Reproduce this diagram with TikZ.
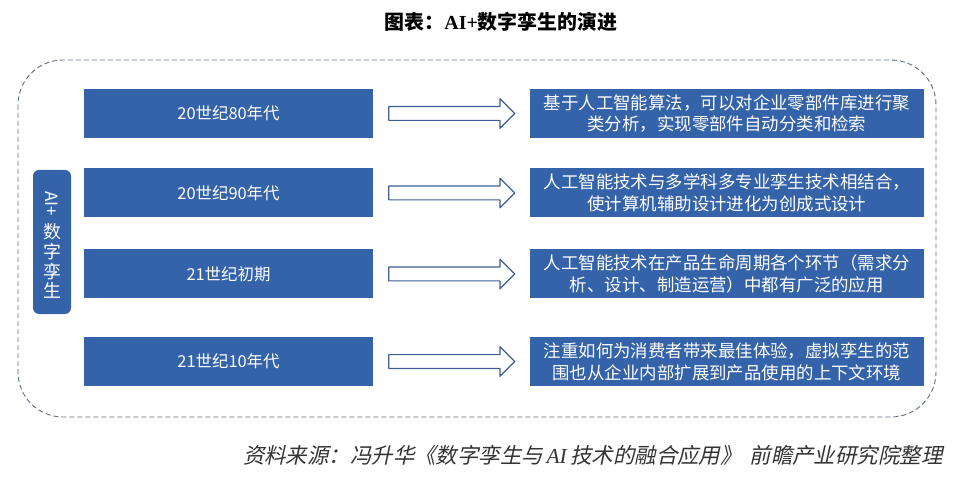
\documentclass[tikz,border=0pt]{standalone}
\usepackage{fontspec}
\setmainfont{Liberation Serif}
\newfontfamily\cjk{Noto Sans CJK SC}
\newfontfamily\cjkslant[FakeSlant=0.22]{Noto Sans CJK SC}
\usetikzlibrary{positioning,shapes.arrows}
\definecolor{boxblue}{HTML}{3563A9}
\definecolor{arrowblue}{HTML}{3E5C96}
\definecolor{dashgray}{HTML}{5E6C86}
\tikzset{
  erabox/.style={fill=boxblue,text=white,minimum width=289bp,minimum height=49bp,inner sep=0pt,font=\cjk\fontsize{16.5}{20}\selectfont},
  descbox/.style={fill=boxblue,text=white,minimum width=394bp,minimum height=49bp,text width=384bp,align=center,inner sep=0pt,font=\cjk\fontsize{17.5}{22}\selectfont},
  flowarrow/.style={single arrow,draw=arrowblue,line width=1.2bp,fill=white,minimum height=126bp,single arrow head extend=8bp,inner xsep=0pt,inner ysep=6.3bp},
  sidebox/.style={fill=boxblue,rounded corners=6bp,minimum width=38bp,minimum height=144bp,inner sep=0pt}
}
\begin{document}
\begin{tikzpicture}[x=1bp,y=-1bp,line join=round]
  \useasboundingbox (0,0) rectangle (957,480);
  \node[font=\cjk\bfseries\fontsize{20}{24}\selectfont] (title) at (501,22) {图表：{\rmfamily\bfseries AI+}数字孪生的演进};
  \draw[dashgray,line width=0.9bp,dash pattern=on 5bp off 3bp,rounded corners=45bp] (18,60) rectangle (936,417);
  % side label
  \node[sidebox] (side) at (52,242) {};
  \node[rotate=-90,text=white,font=\cjk\fontsize{17}{20}\selectfont] (sideai) at (52,204) {AI+};
  \node[text=white,align=center,inner sep=0pt,font=\cjk\fontsize{18}{20}\selectfont] (sidetxt) at (52,261) {数\\字\\孪\\生};
  % rows
  \foreach \i/\y/\era/\desc in {
    1/113.5/20世纪80年代/{基于人工智能算法，可以对企业零部件库进行聚\\类分析，实现零部件自动分类和检索},
    2/193/20世纪90年代/{人工智能技术与多学科多专业孪生技术相结合，\\使计算机辅助设计进化为创成式设计},
    3/274/21世纪初期/{人工智能技术在产品生命周期各个环节（需求分\\析、设计、制造运营）中都有广泛的应用},
    4/361.5/21世纪10年代/{注重如何为消费者带来最佳体验，虚拟孪生的范\\围也从企业内部扩展到产品使用的上下文环境}}{
    \node[erabox] (era\i) at (228.5,\y) {\era};
    \node[flowarrow,right=15bp of era\i] (arr\i) {};
    \node[descbox,right=14bp of arr\i] (desc\i) {\desc};
  }
  \node[anchor=east,text=black!80,font=\cjkslant\fontsize{21.5}{24}\selectfont] (source) at (946,455) {资料来源：冯升华《数字孪生与\,{\rmfamily\itshape AI}\,技术的融合应用》\hspace{8bp}前瞻产业研究院整理};
\end{tikzpicture}
\end{document}
